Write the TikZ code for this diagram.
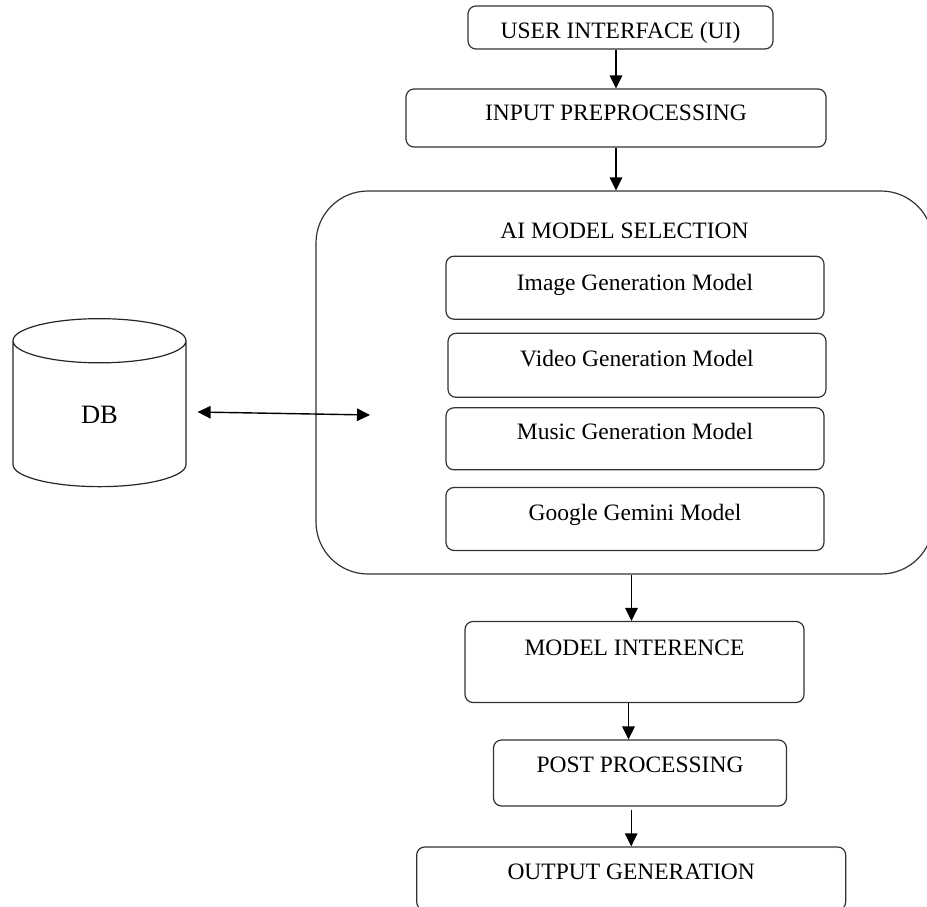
\documentclass[tikz,border=0pt]{standalone}
\usepackage{fontspec}
\setmainfont{Liberation Serif}
\usetikzlibrary{arrows.meta,shapes.geometric}

\tikzset{
  box/.style={draw=black!80, line width=1.2pt, rounded corners=8pt, inner sep=0pt,
    font=\fontsize{23.5}{27}\selectfont},
  bigbox/.style={box, rounded corners=52pt},
}

\begin{document}
\begin{tikzpicture}[x=1pt, y=-1pt, >={Triangle[length=13pt,width=12.5pt]}, line width=1.4pt]
    \useasboundingbox (0,0) rectangle (927,907);
    \clip (0,0) rectangle (927,907);

    \node[box, minimum width=305pt, minimum height=43pt, text height=23pt, text depth=0pt] (ui) at (620.5,27.5) {USER INTERFACE (UI)};
    \node[box, minimum width=420pt, minimum height=58pt, text height=6pt, text depth=0pt] (in_pre) at (616,118) {INPUT PREPROCESSING};

    % model selection block
    \node[bigbox, minimum width=617pt, minimum height=383pt, text height=0pt, text depth=289pt] (sel) at (624.5,382.5) {AI MODEL SELECTION};
    \node[box, minimum width=378pt, minimum height=63pt, text height=4.6pt, text depth=0pt] (img) at (635,287.7) {Image Generation Model};
    \node[box, minimum width=378pt, minimum height=64pt, text height=2.8pt, text depth=0pt] (vid) at (637,365.3) {Video Generation Model};
    \node[box, minimum width=378pt, minimum height=62pt, text height=1pt, text depth=0pt] (mus) at (635,438.8) {Music Generation Model};
    \node[box, minimum width=378pt, minimum height=63pt, text height=3.4pt, text depth=0pt] (gem) at (635,519) {Google Gemini Model};
    \coordinate (sel_in) at (370,415);

    \node[box, minimum width=339pt, minimum height=81pt, text height=0pt, text depth=13.4pt] (infer) at (634.5,662) {MODEL INTERENCE};
    \node[box, minimum width=293pt, minimum height=66pt, text height=0pt, text depth=2pt] (post) at (640,773) {POST PROCESSING};
    \node[box, minimum width=429pt, minimum height=63pt, text height=1.6pt, text depth=0pt] (out) at (631.2,878.5) {OUTPUT GENERATION};

    % database
    \node[draw=black!85, line width=1.2pt, cylinder, shape border rotate=90, aspect=1.2,
          minimum width=173pt, minimum height=168pt, inner sep=0pt, text height=18pt, text depth=0pt,
          font=\fontsize{26.5}{30}\selectfont] (db) at (99.5,414) {DB};

    \draw[->] (ui.south -| in_pre.north) -- (in_pre.north);
    \draw[->] (in_pre.south) -- (in_pre.south |- sel.north);
    \draw[<->] ([shift={(11,-2)}]db.east) -- (sel_in);
    \draw[->] ([xshift=-3pt]sel.south -| infer.north) -- ([xshift=-3pt]infer.north);
    \draw[->] ([xshift=-6pt]infer.south) -- ([xshift=-6pt]infer.south |- post.north);
    \draw[->] ([yshift=-3pt]out.north |- post.south) -- (out.north);
\end{tikzpicture}
\end{document}
